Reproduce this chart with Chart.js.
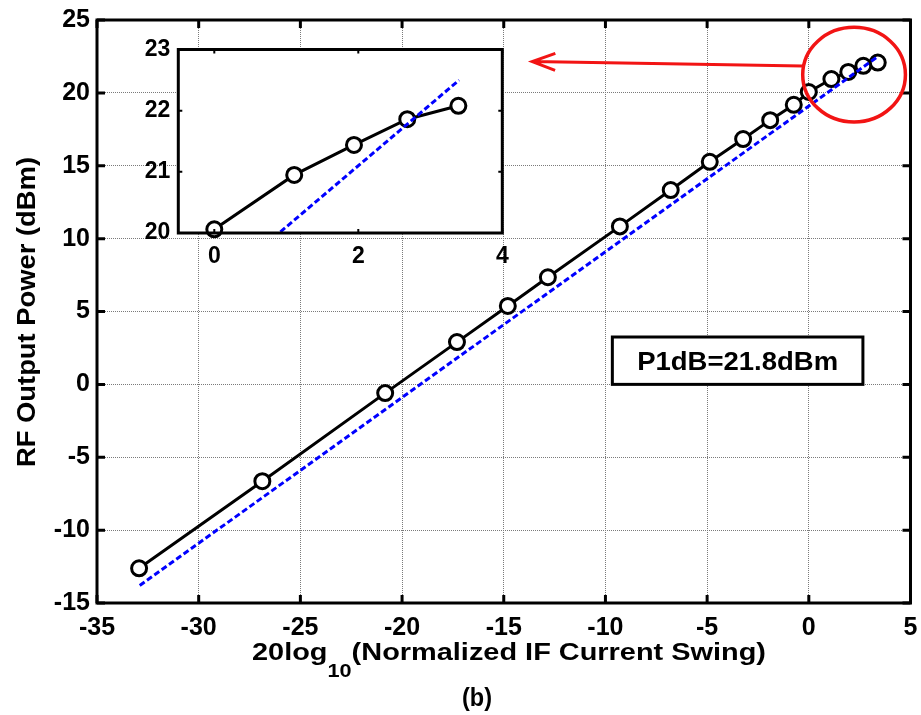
<!DOCTYPE html>
<html lang="en">
<head>
    <meta charset="UTF-8">
    <title>RF Output Power vs Normalized IF Current Swing</title>
    <script src="https://cdn.jsdelivr.net/npm/chart.js"></script>
    <style>
        body {
            margin: 0;
            background: #fff;
        }
        #wrap {
            position: relative;
            width: 921px;
            height: 715px;
        }
        #main {
            position: absolute;
            left: 0;
            top: 0;
        }
        #inset {
            position: absolute;
            left: 120px;
            top: 30px;
        }
    </style>
</head>
<body>
    <div id="wrap">
        <canvas id="main" width="921" height="715"></canvas>
        <canvas id="inset" width="400" height="245"></canvas>
    </div>

    <script>
        // measured sweep: 20log10(IF swing) vs RF output power (dBm)
        const ifSwing = [-32.93, -26.87, -20.83, -17.30, -14.80, -12.83, -9.29, -6.79, -4.87,
                         -3.23, -1.90, -0.74, 0.0, 1.11, 1.94, 2.68, 3.39];
        const rfOut = [-12.62, -6.64, -0.60, 2.90, 5.38, 7.35, 10.84, 13.33, 15.27,
                       16.83, 18.13, 19.18, 20.06, 20.95, 21.44, 21.86, 22.08];

        // ideal 1:1 extrapolated line
        const fitX = [-32.9, 3.4];
        const fitY = [-13.8, 22.5];

        const xTicks = [-35, -30, -25, -20, -15, -10, -5, 0, 5];
        const yTicks = [-15, -10, -5, 0, 5, 10, 15, 20, 25];
        const insetXTicks = [0, 2, 4];
        const insetYTicks = [20, 21, 22, 23];

        const p1dbLabel = 'P1dB=21.8dBm';

        const FONT = "'Liberation Sans', Arial, Helvetica, sans-serif";
        Chart.defaults.font.family = FONT;
        Chart.defaults.font.weight = 'bold';
        Chart.defaults.color = '#000';

        const measured = ifSwing.map((x, i) => ({ x: x, y: rfOut[i] }));
        const fitLine = fitX.map((x, i) => ({ x: x, y: fitY[i] }));
        const zoomed = measured.filter(p => p.x >= 0);

        function fixedTicks(list) {
            return scale => { scale.ticks = list.map(v => ({ value: v })); };
        }

        // keep the plot box where the layout padding puts it
        function fixSize(key, val) {
            return s => {
                s[key] = val;
                s.paddingLeft = s.paddingRight = s.paddingTop = s.paddingBottom = 0;
            };
        }

        // inward tick marks on all four sides, then the box
        function drawFrame(chart, len, tickW, frameW) {
            const ctx = chart.ctx;
            const a = chart.chartArea;
            const xs = chart.scales.x, ys = chart.scales.y;
            ctx.save();
            ctx.strokeStyle = '#000';
            ctx.lineWidth = tickW;
            ctx.beginPath();
            xs.ticks.forEach(t => {
                const px = xs.getPixelForValue(t.value);
                ctx.moveTo(px, a.bottom); ctx.lineTo(px, a.bottom - len);
                ctx.moveTo(px, a.top); ctx.lineTo(px, a.top + len);
            });
            ys.ticks.forEach(t => {
                const py = ys.getPixelForValue(t.value);
                ctx.moveTo(a.left, py); ctx.lineTo(a.left + len, py);
                ctx.moveTo(a.right, py); ctx.lineTo(a.right - len, py);
            });
            ctx.stroke();
            ctx.lineWidth = frameW;
            ctx.strokeRect(a.left, a.top, a.right - a.left, a.bottom - a.top);
            ctx.restore();
        }

        // text squeezed or stretched to a given width
        function fitText(ctx, parts, cx, y, width) {
            let total = 0;
            parts.forEach(p => { ctx.font = p.font; p.w = ctx.measureText(p.text).width; total += p.w; });
            const k = width / total;
            ctx.save();
            ctx.translate(cx - width / 2, y);
            ctx.scale(k, 1);
            let x = 0;
            parts.forEach(p => {
                ctx.font = p.font;
                ctx.fillText(p.text, x, p.dy || 0);
                x += p.w;
            });
            ctx.restore();
        }

        const mainDecor = {
            id: 'mainDecor',
            afterDraw(chart) {
                const ctx = chart.ctx;
                const xs = chart.scales.x, ys = chart.scales.y;
                drawFrame(chart, 8, 3, 3);

                ctx.save();
                // P1dB annotation box
                const bx0 = xs.getPixelForValue(-9.66), bx1 = xs.getPixelForValue(2.66);
                const by0 = ys.getPixelForValue(3.25), by1 = ys.getPixelForValue(0);
                ctx.fillStyle = '#fff';
                ctx.fillRect(bx0, by0, bx1 - bx0, by1 - by0);
                ctx.strokeStyle = '#000';
                ctx.lineWidth = 3;
                ctx.strokeRect(bx0, by0, bx1 - bx0, by1 - by0);
                ctx.fillStyle = '#000';
                ctx.textAlign = 'left';
                ctx.textBaseline = 'alphabetic';
                fitText(ctx, [{ text: p1dbLabel, font: 'bold 26px ' + FONT }], (bx0 + bx1) / 2, (by0 + by1) / 2 + 9, 201);

                // red circle round the compression region and arrow to the inset
                ctx.strokeStyle = '#f21414';
                ctx.lineWidth = 3.5;
                const ex0 = xs.getPixelForValue(-0.3), ex1 = xs.getPixelForValue(4.75);
                const ey0 = ys.getPixelForValue(24.5), ey1 = ys.getPixelForValue(18.0);
                ctx.beginPath();
                ctx.ellipse((ex0 + ex1) / 2, (ey0 + ey1) / 2, (ex1 - ex0) / 2, (ey1 - ey0) / 2, 0, 0, Math.PI * 2);
                ctx.stroke();

                const ax0 = xs.getPixelForValue(-0.3), ay0 = ys.getPixelForValue(21.85);
                const ax1 = xs.getPixelForValue(-13.6), ay1 = ys.getPixelForValue(22.15);
                ctx.lineWidth = 3;
                ctx.beginPath();
                ctx.moveTo(ax0, ay0);
                ctx.lineTo(ax1, ay1);
                const ang = Math.atan2(ay0 - ay1, ax0 - ax1);
                const hl = 23, hw = 8.5;
                const cx = ax1 + Math.cos(ang) * hl, cy = ay1 + Math.sin(ang) * hl;
                ctx.moveTo(cx - Math.sin(ang) * hw, cy + Math.cos(ang) * hw);
                ctx.lineTo(ax1, ay1);
                ctx.lineTo(cx + Math.sin(ang) * hw, cy - Math.cos(ang) * hw);
                ctx.stroke();

                // axis titles
                ctx.fillStyle = '#000';
                ctx.save();
                ctx.translate(35, 312);
                ctx.rotate(-Math.PI / 2);
                fitText(ctx, [{ text: 'RF Output Power (dBm)', font: 'bold 25px ' + FONT }], 0, 0, 310);
                ctx.restore();

                fitText(ctx, [
                    { text: '20log', font: 'bold 24px ' + FONT },
                    { text: '10', font: 'bold 18px ' + FONT, dy: 17 },
                    { text: '(Normalized IF Current Swing)', font: 'bold 24px ' + FONT }
                ], 509, 660, 514);

                fitText(ctx, [{ text: '(b)', font: 'bold 25px ' + FONT }], 477, 706, 30);
                ctx.restore();
            }
        };

        const gridStyle = { color: '#7a7a7a', lineWidth: 1, drawTicks: false };

        new Chart(document.getElementById('main'), {
            type: 'scatter',
            data: {
                datasets: [
                    {
                        data: fitLine,
                        showLine: true,
                        borderColor: '#0000ff',
                        borderWidth: 3,
                        borderDash: [6, 3],
                        pointRadius: 0
                    },
                    {
                        data: measured,
                        showLine: true,
                        borderColor: '#000',
                        borderWidth: 3,
                        pointRadius: 7.5,
                        pointBorderWidth: 3,
                        pointBorderColor: '#000',
                        pointBackgroundColor: '#fff'
                    }
                ]
            },
            options: {
                responsive: false,
                animation: false,
                layout: { padding: { top: 20, right: 10 } },
                plugins: {
                    legend: { display: false },
                    tooltip: { enabled: false }
                },
                scales: {
                    x: {
                        type: 'linear',
                        min: -35,
                        max: 5,
                        afterBuildTicks: fixedTicks(xTicks),
                        afterFit: fixSize('height', 112),
                        grid: gridStyle,
                        border: { display: false, dash: [1, 1] },
                        ticks: { padding: 10, font: { size: 25 }, maxRotation: 0 }
                    },
                    y: {
                        type: 'linear',
                        min: -15,
                        max: 25,
                        afterBuildTicks: fixedTicks(yTicks),
                        afterFit: fixSize('width', 97),
                        grid: gridStyle,
                        border: { display: false, dash: [1, 1] },
                        ticks: { padding: 7, font: { size: 25 } }
                    }
                }
            },
            plugins: [mainDecor]
        });

        const insetDecor = {
            id: 'insetDecor',
            beforeDatasetsDraw(chart) {
                const a = chart.chartArea;
                chart.ctx.save();
                chart.ctx.fillStyle = '#fff';
                chart.ctx.fillRect(a.left, a.top, a.right - a.left, a.bottom - a.top);
                chart.ctx.restore();
            },
            afterDraw(chart) {
                drawFrame(chart, 4, 2, 3);
            }
        };

        new Chart(document.getElementById('inset'), {
            type: 'scatter',
            data: {
                datasets: [
                    {
                        data: fitLine,
                        showLine: true,
                        borderColor: '#0000ff',
                        borderWidth: 3,
                        borderDash: [6, 3],
                        pointRadius: 0,
                        clip: 0
                    },
                    {
                        data: zoomed,
                        showLine: true,
                        borderColor: '#000',
                        borderWidth: 3,
                        pointRadius: 7.5,
                        pointBorderWidth: 3,
                        pointBorderColor: '#000',
                        pointBackgroundColor: '#fff',
                        clip: 8
                    }
                ]
            },
            options: {
                responsive: false,
                animation: false,
                layout: { padding: { top: 19.5, right: 17.7 } },
                plugins: {
                    legend: { display: false },
                    tooltip: { enabled: false }
                },
                scales: {
                    x: {
                        type: 'linear',
                        min: -0.5,
                        max: 4,
                        afterBuildTicks: fixedTicks(insetXTicks),
                        afterFit: fixSize('height', 42),
                        grid: { display: false, drawTicks: false },
                        border: { display: false },
                        ticks: { padding: 10, font: { size: 23 }, maxRotation: 0 }
                    },
                    y: {
                        type: 'linear',
                        min: 20,
                        max: 23,
                        afterBuildTicks: fixedTicks(insetYTicks),
                        afterFit: fixSize('width', 58.3),
                        grid: { display: false, drawTicks: false },
                        border: { display: false },
                        ticks: { padding: 8, font: { size: 23 } }
                    }
                }
            },
            plugins: [insetDecor]
        });
    </script>
</body>
</html>
